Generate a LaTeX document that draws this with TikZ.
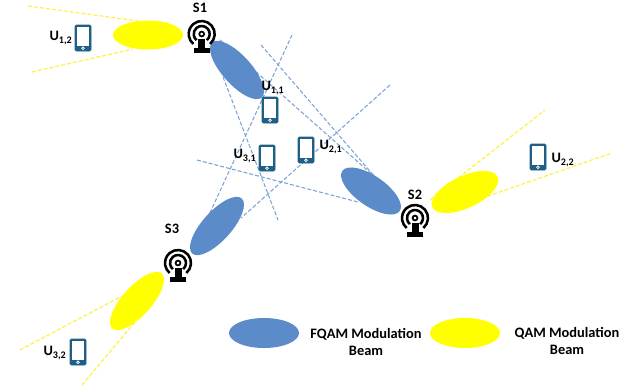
\documentclass[tikz,border=0pt]{standalone}
\usepackage{fontspec}
\setmainfont{Carlito}
\definecolor{beamblue}{RGB}{91,139,200}
\definecolor{beamline}{RGB}{125,163,213}
\definecolor{beamyellow}{RGB}{255,255,0}
\definecolor{linkyellow}{RGB}{255,240,70}
\definecolor{phoneteal}{RGB}{31,95,133}
\tikzset{every picture/.style={line width=0.5pt}}
\tikzset{
  fqambeam/.style={fill=beamblue,draw=none},
  qambeam/.style={fill=beamyellow,draw=none},
  fqamline/.style={color=beamline,line width=0.8,dash pattern=on 3pt off 1.5pt},
  qamline/.style={color=linkyellow,line width=0.9,dash pattern=on 3pt off 1.5pt},
  lbl/.style={inner sep=0.75pt,font=\bfseries\fontsize{10.8}{12.6}\selectfont,text=black,align=center},
  phone/.pic={
    \draw [rounded corners=1pt,fill=phoneteal,draw=phoneteal] (-8,13) rectangle (8,-13);
    \fill [white] (-6,11) rectangle (6,-7.5);
    \draw [white,line width=0.5] (0,-10.2) circle [radius=1.4];
  },
  antenna/.pic={
    \draw [line width=1.9] (-50:13) arc (-50:230:13);
    \draw [line width=1.9] (-50:8) arc (-50:230:8);
    \draw [line width=1.3] (0,0) circle [radius=2.4];
    \fill [black] (-3.5,-5) rectangle (3.5,-14);
    \fill [black] (-8,-14) rectangle (8,-19);
  }
}
\begin{document}
\begin{tikzpicture}[x=0.75pt,y=0.75pt,yscale=-1,xscale=1]
    \useasboundingbox (0,0) rectangle (643,387);

    %Shape: FQAM lines
    \draw [fqamline] (220,40) -- (375,177);
    \draw [fqamline] (223,77) -- (278,220);
    \draw [fqamline] (261,45) -- (375,177);
    \draw [fqamline] (197,160) -- (358,202);
    \draw [fqamline] (292,35) -- (208,217);
    \draw [fqamline] (390,85) -- (241,218);

    %Shape: QAM lines
    \draw [qamline] (28,6) -- (138,21);
    \draw [qamline] (32,72) -- (133,49);
    \draw [qamline] (430,200) -- (545,110);
    \draw [qamline] (442,212) -- (612,153);
    \draw [qamline] (20,350) -- (122,296);
    \draw [qamline] (82,385) -- (135,322);

    %Shape: Beams
    \fill [qambeam] (148,35) ellipse [x radius=35,y radius=14.5];
    \fill [fqambeam,rotate around={48:(237,70)}] (237,70) ellipse [x radius=37,y radius=14.5];
    \fill [fqambeam,rotate around={35:(371,191)}] (371,191) ellipse [x radius=35,y radius=15];
    \fill [qambeam,rotate around={-25:(465,192)}] (465,192) ellipse [x radius=36,y radius=16];
    \fill [fqambeam,rotate around={-48:(217,226)}] (217,226) ellipse [x radius=37,y radius=14.5];
    \fill [qambeam,rotate around={-48:(137,301)}] (137,301) ellipse [x radius=37,y radius=14.5];

    %Shape: Legend beams
    \fill [fqambeam] (264,333) ellipse [x radius=35,y radius=15];
    \fill [qambeam] (465,333) ellipse [x radius=35,y radius=15];

    %Shape: Antennas
    \pic at (201.7,34) {antenna};
    \pic at (415,218) {antenna};
    \pic at (178,263) {antenna};

    %Shape: Phones
    \pic at (83,38) {phone};
    \pic at (270,110) {phone};
    \pic at (267,158) {phone};
    \pic at (306,150) {phone};
    \pic at (538,157) {phone};
    \pic at (78,352) {phone};

    % Text Node
    \draw (200,8) node (labelSone) [lbl] {S1};
    % Text Node
    \draw (415,195) node (labelStwo) [lbl] {S2};
    % Text Node
    \draw (172,229) node (labelSthree) [lbl] {S3};
    % Text Node
    \draw (61,38) node (labelUonetwo) [lbl] {U\textsubscript{1,2}};
    % Text Node
    \draw (273,88) node (labelUoneone) [lbl] {U\textsubscript{1,1}};
    % Text Node
    \draw (245,156) node (labelUthreeone) [lbl] {U\textsubscript{3,1}};
    % Text Node
    \draw (331,147) node (labelUtwoone) [lbl] {U\textsubscript{2,1}};
    % Text Node
    \draw (563,160) node (labelUtwotwo) [lbl] {U\textsubscript{2,2}};
    % Text Node
    \draw (55,353) node (labelUthreetwo) [lbl] {U\textsubscript{3,2}};
    % Text Node
    \draw (366,342) node (labelFqam) [lbl] {FQAM Modulation\\Beam};
    % Text Node
    \draw (567,341) node (labelQam) [lbl] {QAM Modulation\\Beam};
\end{tikzpicture}
\end{document}
